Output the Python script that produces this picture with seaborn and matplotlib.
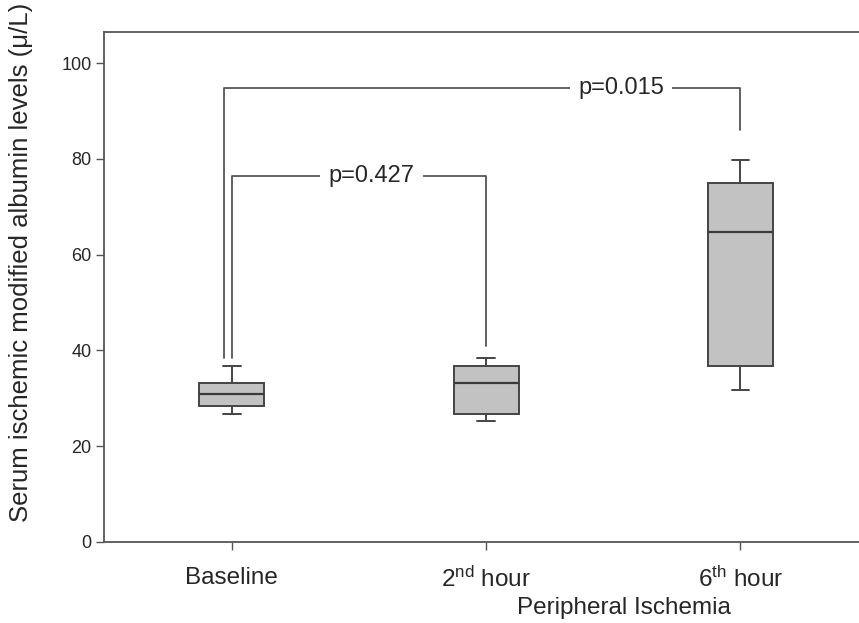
import numpy as np
import pandas as pd
import matplotlib
matplotlib.use("Agg")
import matplotlib.pyplot as plt
import seaborn as sns

# ---- data ----
categories = ["Baseline", "2nd hour", "6th hour"]
tick_labels = ["Baseline", "2$^{\\rm nd}$ hour", "6$^{\\rm th}$ hour"]
whisker_low = [26.7, 25.2, 31.8]
q1 = [28.3, 26.8, 36.8]
median = [31.0, 33.3, 64.8]
q3 = [33.3, 36.7, 75.0]
whisker_high = [36.8, 38.5, 79.8]
p_labels = ["p=0.427", "p=0.015"]

# five values per group reproduce the box statistics exactly
rows = []
for i, c in enumerate(categories):
    for v in (whisker_low[i], q1[i], median[i], q3[i], whisker_high[i]):
        rows.append({"group": c, "value": v})
df = pd.DataFrame(rows)

sns.set_theme(style="white")
plt.rcParams["font.family"] = ["Liberation Sans", "DejaVu Sans"]
plt.rcParams["mathtext.fontset"] = "custom"
plt.rcParams["mathtext.rm"] = "Liberation Sans"
plt.rcParams["mathtext.it"] = "Liberation Sans:italic"

fig = plt.figure(figsize=(8.59, 6.23), dpi=100)
ax = fig.add_axes([104 / 859, 81 / 623, 1 - 104 / 859 + 0.01, 510 / 623])

box_w = 0.255
edge = "#444444"
sns.boxplot(data=df, x="group", y="value", order=categories, whis=(0, 100),
            width=box_w, color="#c2c2c2", linecolor=edge, linewidth=1.4,
            saturation=1, ax=ax,
            medianprops={"color": "#3a3a3a", "linewidth": 1.6})

# shorten the caps
for ln in ax.lines:
    xd, yd = ln.get_xdata(), ln.get_ydata()
    if len(xd) == 2 and yd[0] == yd[1]:
        ext = abs(xd[1] - xd[0])
        if ext < box_w * 0.95:
            c = (xd[0] + xd[1]) / 2
            half = 0.035
            ln.set_xdata([c - half, c + half])

ax.set_xlim(-0.503, 2.5)
ax.set_ylim(0, 106.5)
ax.set_yticks([0, 20, 40, 60, 80, 100])
ax.set_xticks(range(3))
ax.set_xticklabels(tick_labels, fontsize=17.5)
ax.tick_params(axis="y", labelsize=13, length=6, width=1, color="#555", direction="out", left=True, pad=3)
ax.tick_params(axis="x", length=6, width=1, color="#555", direction="out", bottom=True, pad=12)

for s in ["left", "top", "bottom"]:
    ax.spines[s].set_color("#555")
    ax.spines[s].set_linewidth(1.3)
ax.spines["right"].set_visible(False)

ax.set_xlabel("Peripheral Ischemia", fontsize=17.5)
ax.xaxis.set_label_coords((618 - 104) / 755, -0.13)
ax.xaxis.label.set_va("center")
ax.set_ylabel("Serum ischemic modified albumin levels (\u03bc/L)", fontsize=18.5)
ax.yaxis.set_label_coords((22 - 104) / 755, (542 - 262) / 510)
ax.yaxis.label.set_va("center")

# significance brackets
bc = "#555"
ax.plot([0, 0, 1, 1], [38.5, 76.5, 76.5, 41.0], color=bc, lw=1.3)
ax.plot([-0.033, -0.033, 2, 2], [38.5, 94.8, 94.8, 86.0], color=bc, lw=1.3)
ax.text(0.55, 76.5, p_labels[0], ha="center", va="center", fontsize=17,
        bbox=dict(facecolor="white", edgecolor="none", pad=6))
ax.text(1.53, 94.8, p_labels[1], ha="center", va="center", fontsize=17,
        bbox=dict(facecolor="white", edgecolor="none", pad=6))

fig.savefig("out.png", dpi=100)
